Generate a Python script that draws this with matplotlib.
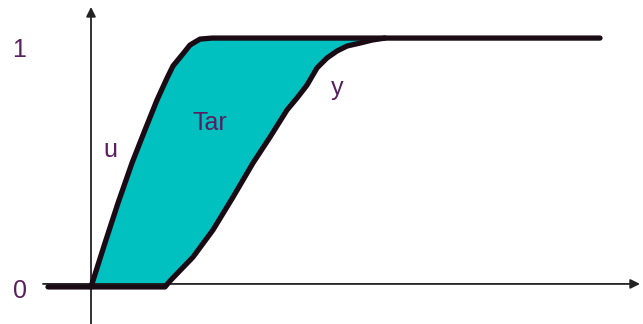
import numpy as np
import matplotlib.pyplot as plt

# input u (fast ramp) and output y (delayed response)
u_t = [0.0, 0.28, 0.54, 0.82, 1.08, 1.32, 1.52, 1.64, 1.82, 1.98, 2.18, 2.42, 10.18]
u_v = [0.0, 0.177, 0.337, 0.498, 0.631, 0.751, 0.839, 0.888, 0.932, 0.972, 0.996, 1.0, 1.0]

y_t = [-0.86, 1.48, 1.58, 2.04, 2.44, 2.84, 3.24, 3.58, 3.92, 4.12, 4.32, 4.52,
       4.72, 4.92, 5.12, 5.38, 5.62, 5.88]
y_v = [0.0, 0.0, 0.024, 0.12, 0.229, 0.361, 0.498, 0.602, 0.711, 0.759, 0.811, 0.880,
       0.920, 0.948, 0.968, 0.980, 0.992, 1.0]

level_labels = ['0', '1']
level_values = [0, 1]

line_col = '#1a0a14'
text_col = '#5a1f5e'
fill_col = '#00c0c0'

plt.rcParams['font.family'] = ['Liberation Sans', 'DejaVu Sans']

fig = plt.figure(figsize=(6.43, 3.24), dpi=100)
ax = fig.add_axes([0, 0, 1, 1])
ax.set_xlim(-1.82, 11.04)
ax.set_ylim(-0.149, 1.153)
ax.axis('off')

# area between u and y
t = np.linspace(0, 5.88, 400)
ax.fill_between(t, np.interp(t, u_t, u_v), np.interp(t, y_t, y_v),
                color=fill_col, lw=0, zorder=1)

# axes with arrows
ax.annotate('', xy=(10.98, 0.012), xytext=(-0.96, 0.012),
            arrowprops=dict(arrowstyle='-|>', lw=1.3, color='#222222',
                            mutation_scale=14, shrinkA=0, shrinkB=0), zorder=2)
ax.annotate('', xy=(0, 1.125), xytext=(0, -0.149),
            arrowprops=dict(arrowstyle='-|>', lw=1.3, color='#222222',
                            mutation_scale=14, shrinkA=0, shrinkB=0), zorder=2)

# curves
ax.plot(y_t, y_v, color=line_col, lw=3.8, solid_capstyle='round',
        solid_joinstyle='round', zorder=3)
ax.plot(u_t, u_v, color=line_col, lw=3.8, solid_capstyle='round',
        solid_joinstyle='round', zorder=3)

# level labels, baseline just below each level
for lab, val in zip(level_labels, level_values):
    ax.text(-1.43, val - (0.076 if val else 0.046), lab, color=text_col,
            fontsize=18, ha='center', va='baseline')

ax.text(0.38, 0.522, 'u', color=text_col, fontsize=18, ha='center', va='baseline')
ax.text(2.38, 0.631, 'Tar', color=text_col, fontsize=18, ha='center', va='baseline')
ax.text(4.92, 0.771, 'y', color=text_col, fontsize=18, ha='center', va='baseline')

fig.savefig('out.png', dpi=100)
